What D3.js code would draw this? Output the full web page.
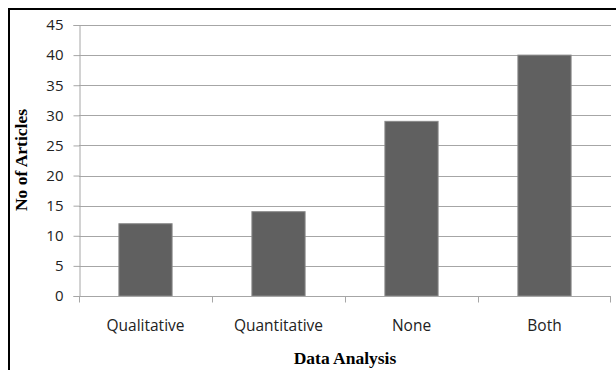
<!DOCTYPE html>
<html><head><meta charset="utf-8">
<script src="https://cdn.jsdelivr.net/npm/d3@7"></script>
<style>body{margin:0;background:#fff}svg{display:block}</style>
</head><body>
<script>
const categories = ["Qualitative", "Quantitative", "None", "Both"];
const values = [12, 14, 29, 40];
const yTicks = [0, 5, 10, 15, 20, 25, 30, 35, 40, 45];
const xTitle = "Data Analysis";
const yTitle = "No of Articles";

(function () {
const W = 616, H = 370;
const svg = d3.select("body").append("svg").attr("width", W).attr("height", H);

// outer frame (top and left visible)
svg.append("line").attr("x1", 8).attr("x2", W).attr("y1", 9).attr("y2", 9).attr("stroke", "#000").attr("stroke-width", 2);
svg.append("line").attr("x1", 9).attr("x2", 9).attr("y1", 8).attr("y2", H).attr("stroke", "#000").attr("stroke-width", 2);

const mLeft = 79, mRight = 611, mTop = 25, mBottom = 296;
const x = d3.scaleBand().domain(categories).range([mLeft, mRight]).paddingInner(0).paddingOuter(0);
const y = d3.scaleLinear().domain([0, 45]).range([mBottom, mTop]);

// gridlines
svg.append("g").selectAll("line").data(yTicks.filter(d => d > 0)).join("line")
  .attr("x1", mLeft).attr("x2", mRight)
  .attr("y1", d => Math.round(y(d)) + 0.5).attr("y2", d => Math.round(y(d)) + 0.5)
  .attr("stroke", "#a6a6a6").attr("stroke-width", 1);

// bars
const bw = x.bandwidth() * 0.4;
svg.append("g").selectAll("rect").data(values).join("rect")
  .attr("x", (d, i) => x(categories[i]) + (x.bandwidth() - bw) / 2)
  .attr("y", d => y(d))
  .attr("width", bw)
  .attr("height", d => y(0) - y(d))
  .attr("fill", "#606060").attr("stroke", "#8a8a8a").attr("stroke-width", 1);

// y axis
const yAxis = d3.axisLeft(y).tickValues(yTicks).tickSize(6).tickPadding(10);
const gy = svg.append("g").attr("transform", `translate(${mLeft + 0.5},0)`).call(yAxis);
gy.select(".domain").attr("stroke", "#a6a6a6");
gy.selectAll(".tick line").attr("stroke", "#a6a6a6");
gy.selectAll(".tick text").attr("font-family", "'Open Sans', sans-serif").attr("font-size", 15).attr("fill", "#222");

// x axis
const gx = svg.append("g").attr("transform", `translate(0,${mBottom + 0.5})`);
gx.append("line").attr("x1", mLeft).attr("x2", mRight).attr("stroke", "#a6a6a6");
gx.selectAll(".bt").data(categories.concat(["__end"])).join("line")
  .attr("class", "bt")
  .attr("x1", (d, i) => i < categories.length ? x(d) + 0.5 : mRight - 0.5)
  .attr("x2", (d, i) => i < categories.length ? x(d) + 0.5 : mRight - 0.5)
  .attr("y1", 0).attr("y2", 6).attr("stroke", "#a6a6a6");
gx.selectAll("text").data(categories).join("text")
  .attr("x", d => x(d) + x.bandwidth() / 2).attr("y", 34)
  .attr("text-anchor", "middle")
  .attr("font-family", "'Open Sans', sans-serif").attr("font-size", 15.5).attr("fill", "#222")
  .text(d => d);

// titles
svg.append("text").attr("x", 345).attr("y", 364).attr("text-anchor", "middle")
  .attr("font-family", "'Liberation Serif', serif").attr("font-weight", "bold").attr("font-size", 17.5).attr("fill", "#000")
  .text(xTitle);
svg.append("text").attr("transform", "translate(27,160) rotate(-90)").attr("text-anchor", "middle")
  .attr("font-family", "'Liberation Serif', serif").attr("font-weight", "bold").attr("font-size", 17.5).attr("fill", "#000")
  .text(yTitle);
})();
</script>
</body></html>
